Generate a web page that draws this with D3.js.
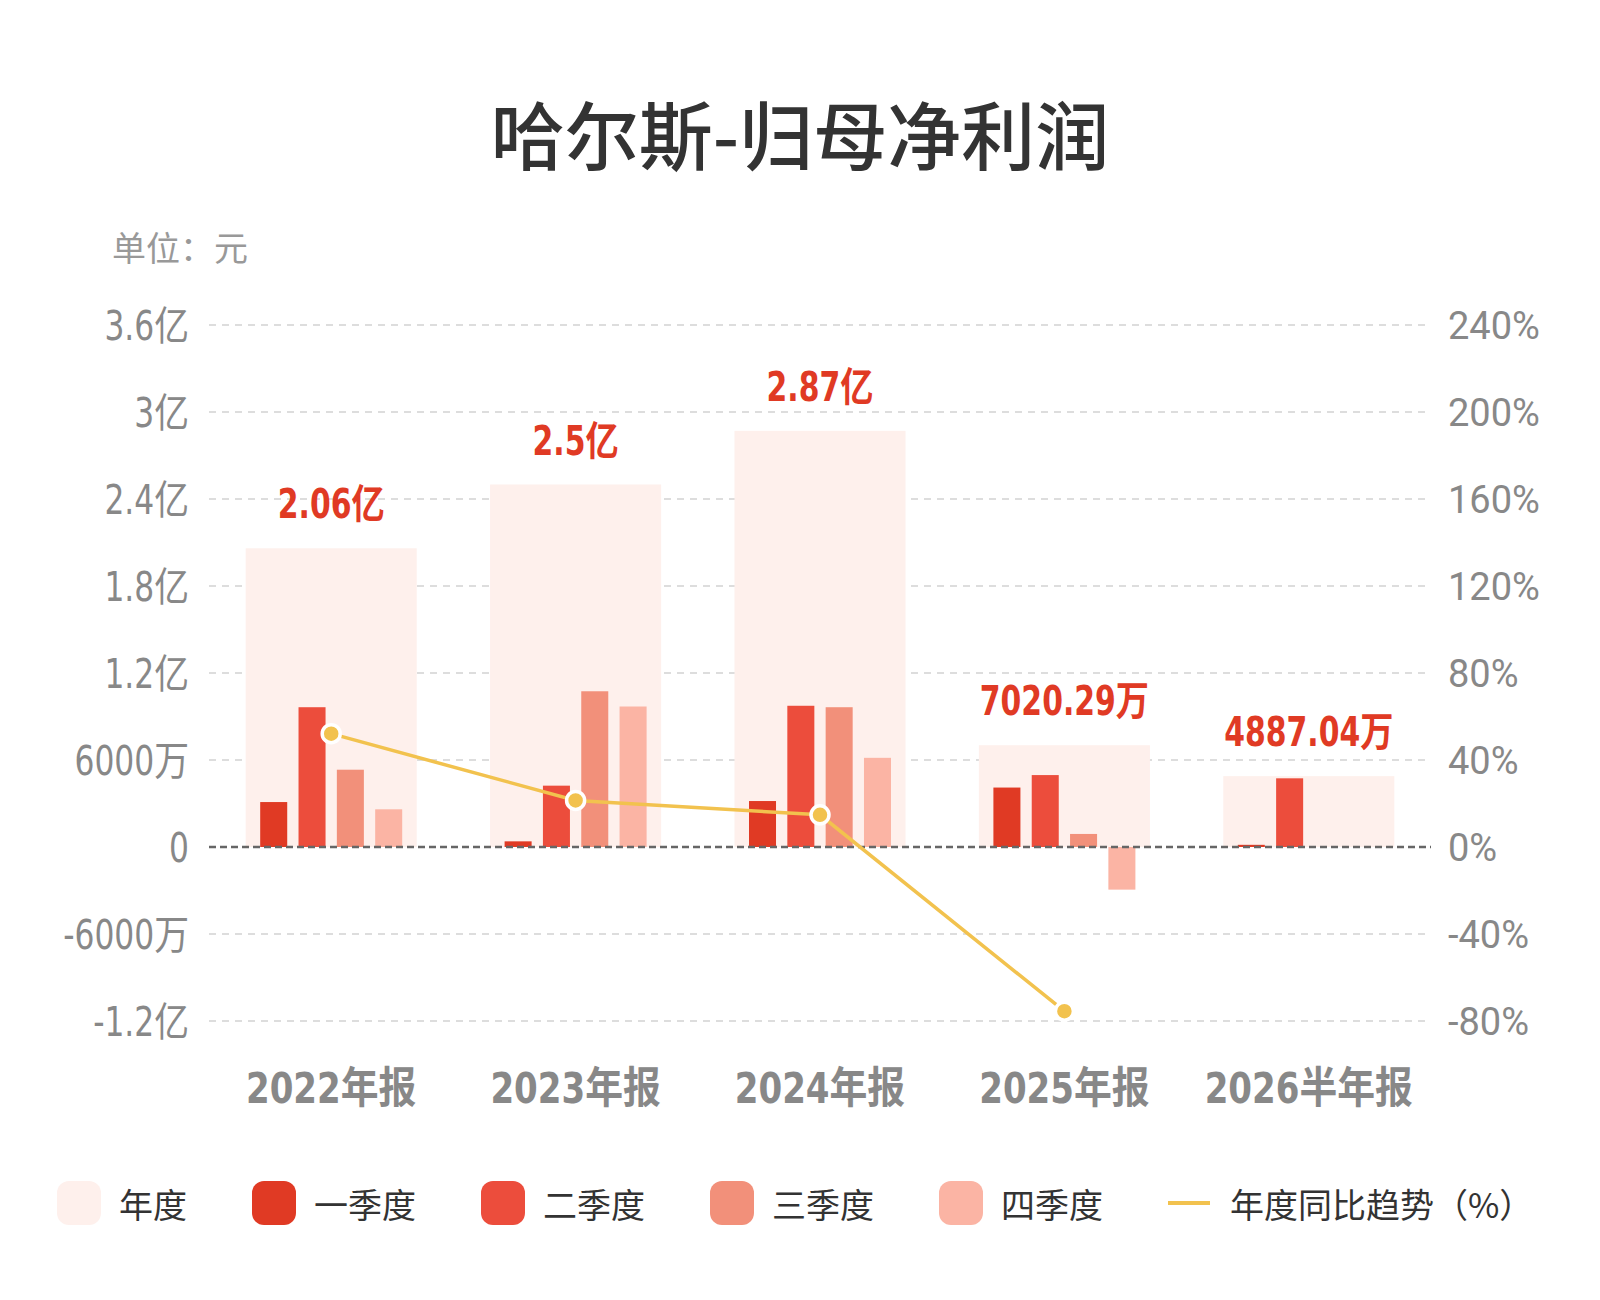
<!DOCTYPE html>
<html><head><meta charset="utf-8">
<script src="https://cdn.jsdelivr.net/npm/d3@7"></script>
<style>
html,body{margin:0;padding:0;background:#fff;}
</style></head>
<body>
<svg id="c" width="1600" height="1300"></svg>
<script>
const categories = ["2022年报","2023年报","2024年报","2025年报","2026半年报"];
const annualValues = [206000000, 250000000, 287000000, 70202900, 48870400];
const annualLabels = ["2.06亿","2.5亿","2.87亿","7020.29万","4887.04万"];
const q1Values = [31000000, 3900000, 31700000, 41000000, 1500000];
const q2Values = [96400000, 42300000, 97400000, 49600000, 47370000];
const q3Values = [53300000, 107400000, 96400000, 9000000, null];
const q4Values = [26000000, 96900000, 61500000, -29400000, null];
const yoyValues = [52.1, 21.4, 14.8, -75.5, null];
const leftTicks = [-120000000, -60000000, 0, 60000000, 120000000, 180000000, 240000000, 300000000, 360000000];
const leftTickLabels = ["-1.2亿","-6000万","0","6000万","1.2亿","1.8亿","2.4亿","3亿","3.6亿"];
const rightTicks = [-80,-40,0,40,80,120,160,200,240];
const rightTickLabels = ["-80%","-40%","0%","40%","80%","120%","160%","200%","240%"];
const seriesNames = ["年度","一季度","二季度","三季度","四季度","年度同比趋势（%）"];
const colors = ["#FEF0EC","#E03A24","#EC4D3C","#F2907A","#FBB4A4","#F2C24E"];

const svg = d3.select("#c");
const numFont = "'Liberation Sans Narrow','DejaVu Sans Condensed','Noto Sans','Noto Sans CJK SC',sans-serif";
const cjkFont = "'Noto Sans CJK SC','Noto Sans',sans-serif";

const x0 = d3.scaleBand().domain(categories).range([209, 1431]).paddingInner(0).paddingOuter(0);
const y = d3.scaleLinear().domain([-120000000, 360000000]).range([1021, 325]);
const yr = d3.scaleLinear().domain([-80, 240]).range([1021, 325]);
const quarters = [q1Values, q2Values, q3Values, q4Values];
const qx = d3.scaleBand().domain([0,1,2,3]).range([-71, 71]).paddingInner(0.295);

// title
svg.append("text").attr("x", 800).attr("y", 131).attr("text-anchor","middle")
  .attr("dominant-baseline","central").attr("font-family", cjkFont)
  .attr("font-size", 74).attr("font-weight", 500).attr("fill","#333")
  .text("哈尔斯-归母净利润");

svg.append("text").attr("x", 112).attr("y", 246).attr("dominant-baseline","central")
  .attr("font-family", cjkFont).attr("font-size", 34).attr("fill","#999")
  .text("单位：元");

// gridlines
const grid = svg.append("g");
leftTicks.forEach((t,i) => {
  if (t === 0) return;
  grid.append("line").attr("x1", 209).attr("x2", 1431).attr("y1", y(t)).attr("y2", y(t))
    .attr("stroke", "#ddd").attr("stroke-width", 2)
    .attr("stroke-dasharray", "7,6");
});

// annual bars
const bw = x0.bandwidth()*0.7;
svg.append("g").selectAll("rect").data(categories).join("rect")
  .attr("x", d => x0(d) + (x0.bandwidth()-bw)/2)
  .attr("width", bw)
  .attr("y", (d,i) => y(annualValues[i]))
  .attr("height", (d,i) => y(0) - y(annualValues[i]))
  .attr("fill", colors[0]);

// quarter bars
quarters.forEach((arr, qi) => {
  svg.append("g").selectAll("rect").data(categories.map((c,i)=>({c, v: arr[i]})).filter(d => d.v !== null))
    .join("rect")
    .attr("x", d => x0(d.c) + x0.bandwidth()/2 + qx(qi))
    .attr("width", qx.bandwidth())
    .attr("y", d => y(Math.max(0, d.v)))
    .attr("height", d => Math.abs(y(d.v) - y(0)))
    .attr("fill", colors[qi+1]);
});

// zero line on top
svg.append("line").attr("x1", 209).attr("x2", 1431).attr("y1", y(0)).attr("y2", y(0))
  .attr("stroke","#666").attr("stroke-width",2.5).attr("stroke-dasharray","7,4");

// annual labels
svg.append("g").selectAll("text").data(categories).join("text")
  .attr("transform", (d,i) => `translate(${x0(d) + x0.bandwidth()/2},${y(annualValues[i]) - 30}) scale(0.83,1)`)
  .attr("text-anchor","middle")
  .attr("font-family", numFont).attr("font-weight", 700).attr("font-size", 40)
  .attr("fill", "#E03A24")
  .text((d,i) => annualLabels[i]);

// yoy line
const linePts = categories.map((c,i)=>({c, v: yoyValues[i]})).filter(d => d.v !== null);
const line = d3.line().x(d => x0(d.c) + x0.bandwidth()/2).y(d => yr(d.v));
svg.append("path").datum(linePts).attr("d", line).attr("fill","none")
  .attr("stroke", colors[5]).attr("stroke-width", 3.5);
svg.append("g").selectAll("circle").data(linePts).join("circle")
  .attr("cx", d => x0(d.c) + x0.bandwidth()/2).attr("cy", d => yr(d.v))
  .attr("r", 9).attr("fill", colors[5]).attr("stroke","#fff").attr("stroke-width", 3.5);

// left axis
const yAxis = d3.axisLeft(y).tickValues(leftTicks).tickFormat((d,i)=>leftTickLabels[i]).tickSize(0).tickPadding(0);
const ga = svg.append("g").attr("transform","translate(189,0)").call(yAxis);
ga.select(".domain").remove();
ga.selectAll("text").attr("x", 0).attr("font-family", numFont).attr("font-size", 40).attr("fill","#888").attr("dy","0.35em")
  .attr("transform","scale(0.87,1)");

// right axis
const yrAxis = d3.axisRight(yr).tickValues(rightTicks).tickFormat((d,i)=>rightTickLabels[i]).tickSize(0).tickPadding(0);
const gr = svg.append("g").attr("transform","translate(1448,0)").call(yrAxis);
gr.select(".domain").remove();
gr.selectAll("text").attr("font-family", "'Roboto','Noto Sans',sans-serif").attr("font-size", 38).attr("fill","#888").attr("dy","0.35em");

// x axis
const xAxis = d3.axisBottom(x0).tickSize(0).tickPadding(0);
const gx = svg.append("g").attr("transform","translate(0,1088)").call(xAxis);
gx.select(".domain").remove();
gx.selectAll("text").attr("y", 0).attr("font-family", numFont).attr("font-weight",700).attr("font-size", 43).attr("fill","#888").attr("dy","0.35em")
  .attr("transform","scale(0.88,1)");

// legend
const lg = svg.append("g");
let lx = 57;
const ly = 1203;
seriesNames.forEach((name, i) => {
  const g = lg.append("g");
  if (i < 5) {
    g.append("rect").attr("x", lx).attr("y", ly-22).attr("width", 44).attr("height", 44).attr("rx", 12).attr("fill", colors[i]);
  } else {
    g.append("line").attr("x1", lx).attr("x2", lx+42).attr("y1", ly).attr("y2", ly).attr("stroke", colors[i]).attr("stroke-width", 4);
  }
  const t = g.append("text").attr("x", lx + 62).attr("y", ly).attr("dominant-baseline","central")
    .attr("font-family", cjkFont).attr("font-size", 34).attr("fill","#333").text(name);
  lx += 62 + t.node().getComputedTextLength() + 65;
});
</script>
</body></html>
